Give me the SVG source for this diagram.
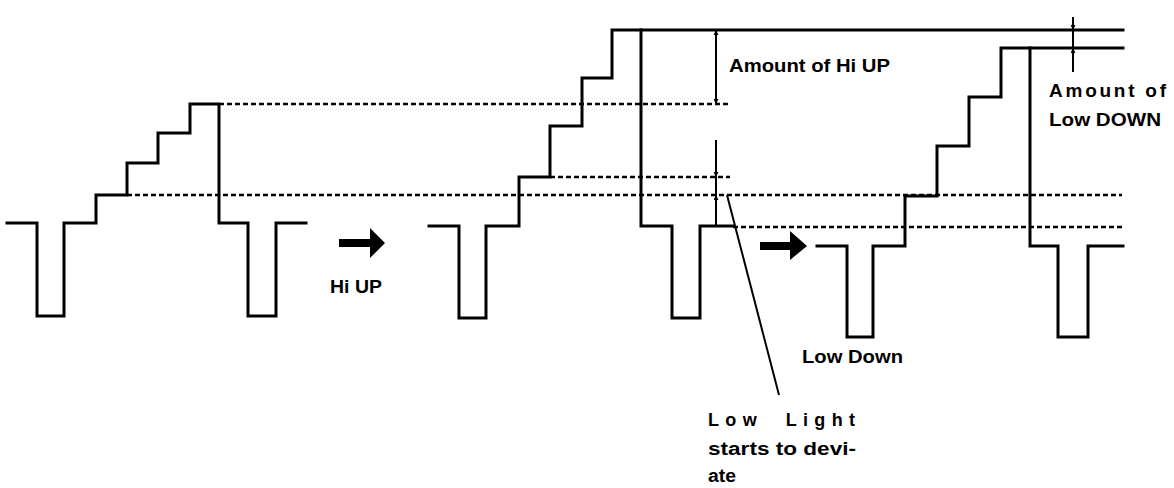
<svg xmlns="http://www.w3.org/2000/svg" width="1174" height="488" viewBox="0 0 1174 488">
  <style>
    .wave { fill: none; stroke: #000; stroke-width: 3; stroke-linejoin: miter; stroke-linecap: square; }
    .lvl { fill: none; stroke: #000; stroke-width: 2.4; stroke-dasharray: 5 3; }
    .dim { fill: none; stroke: #000; stroke-width: 2; }
    .lbl { font-family: "Liberation Sans", Arial, Helvetica, sans-serif; font-weight: bold; fill: #000; }
    .arrow { fill: #000; stroke: none; }
  </style>
  <defs>
    <marker id="tick" viewBox="0 0 6 6" refX="6" refY="3" markerWidth="5" markerHeight="5" orient="auto-start-reverse" markerUnits="userSpaceOnUse">
      <path d="M0,0 L6,3 L0,6 Z" fill="#000"/>
    </marker>
  </defs>
  <rect width="1174" height="488" fill="#fff"/>

  <g id="levels">
    <line class="lvl" x1="219" y1="104" x2="730" y2="104"/>
    <line class="lvl" x1="127" y1="195" x2="1122" y2="195"/>
    <line class="lvl" x1="550" y1="177" x2="730" y2="177"/>
    <line class="lvl" x1="733" y1="227" x2="1122" y2="227"/>
  </g>

  <g id="wave-left">
    <path class="wave" d="M7,223 H37 V316 H64 V223 H96 V195 H127 V163 H158 V133 H190 V104 H219 V223 H248 V316 H276 V223 H306"/>
  </g>

  <g id="wave-middle">
    <path class="wave" d="M429,226 H459 V318 H486 V226 H519 V177 H550 V126 H582 V78 H612 V30 H1123"/>
    <path class="wave" d="M641,30 V226 H672 V318 H700 V226 H733"/>
  </g>

  <g id="wave-right">
    <path class="wave" d="M817,246 H847 V337 H873 V246 H905 V196 H937 V146 H969 V97 H1001 V48 H1123"/>
    <path class="wave" d="M1030,48 V246 H1058 V337 H1088 V246 H1123"/>
  </g>

  <g id="arrow-hi-up">
    <polygon class="arrow" points="339,239 370,239 370,228 385,243 370,258 370,247 339,247"/>
  </g>
  <g id="arrow-low-down">
    <polygon class="arrow" points="760,242 790,242 790,231 807,246 790,260 790,250 760,250"/>
  </g>

  <g id="connectors">
    <line class="dim" x1="716" y1="30" x2="716" y2="104" marker-start="url(#tick)" marker-end="url(#tick)"/>
    <line class="dim" x1="716" y1="140" x2="716" y2="177" marker-end="url(#tick)"/>
    <line class="dim" x1="716" y1="177" x2="716" y2="195"/>
    <line class="dim" x1="716" y1="225" x2="716" y2="195" marker-end="url(#tick)"/>
    <line class="dim" x1="1073" y1="17" x2="1073" y2="30" marker-end="url(#tick)"/>
    <line class="dim" x1="1073" y1="30" x2="1073" y2="48"/>
    <line class="dim" x1="1073" y1="72" x2="1073" y2="48" marker-end="url(#tick)"/>
    <line class="dim" x1="727" y1="195" x2="779" y2="395"/>
  </g>

  <g id="labels">
    <text class="lbl" x="729" y="72" font-size="19" textLength="161" lengthAdjust="spacingAndGlyphs">Amount of Hi UP</text>
    <text class="lbl" x="1049" y="97" font-size="19" textLength="117" lengthAdjust="spacing">Amount of</text>
    <text class="lbl" x="1049" y="126" font-size="19" textLength="112" lengthAdjust="spacingAndGlyphs">Low DOWN</text>
    <text class="lbl" x="330" y="293" font-size="18" textLength="52" lengthAdjust="spacingAndGlyphs">Hi UP</text>
    <text class="lbl" x="802" y="363" font-size="18" textLength="101" lengthAdjust="spacingAndGlyphs">Low Down</text>
    <text class="lbl" x="708" y="426" font-size="18" textLength="147" lengthAdjust="spacing" xml:space="preserve">Low  Light</text>
    <text class="lbl" x="708" y="455" font-size="18" textLength="148" lengthAdjust="spacingAndGlyphs">starts to devi-</text>
    <text class="lbl" x="708" y="482" font-size="18" textLength="28" lengthAdjust="spacingAndGlyphs">ate</text>
  </g>
</svg>
